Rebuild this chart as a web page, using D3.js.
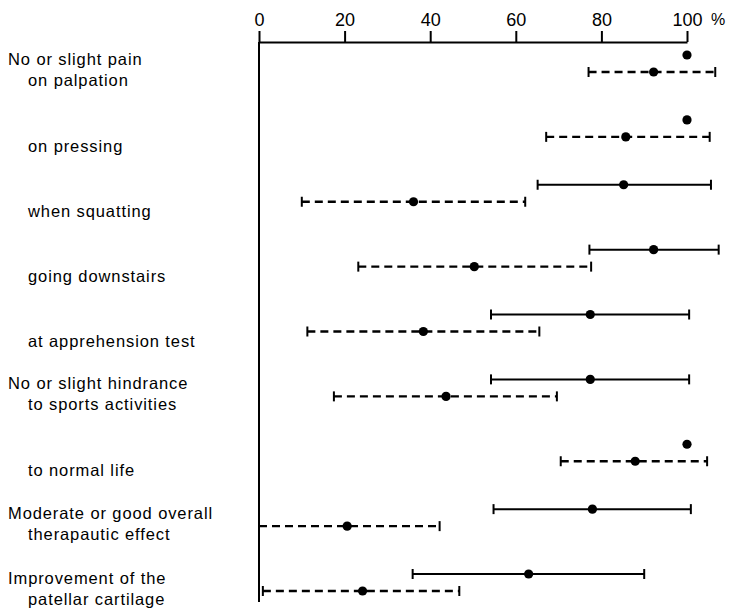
<!DOCTYPE html>
<html>
<head>
<meta charset="utf-8">
<style>
  body { margin: 0; background: #fff; }
  svg { display: block; }
  text { font-family: "Liberation Sans", Arial, sans-serif; fill: #000; }
</style>
</head>
<body>
<svg width="729" height="608"></svg>
<script src="https://d3js.org/d3.v7.min.js"></script>
<script>

var categories = ["palpation", "pressing", "squatting", "downstairs", "apprehension",
                  "sports", "normalLife", "overall", "cartilage"];
var labelLines = [
  ["No or slight pain", "on palpation"],
  ["on pressing"],
  ["when squatting"],
  ["going downstairs"],
  ["at apprehension test"],
  ["No or slight hindrance", "to sports activities"],
  ["to normal life"],
  ["Moderate or good overall", "therapautic effect"],
  ["Improvement of the", "patellar cartilage"]
];
var tickValues = [0, 20, 40, 60, 80, 100];

// solid series (upper point in each row)
var solidMean = [100, 100, 85.2, 92.2, 77.4, 77.4, 100, 77.9, 63.0];
var solidLow  = [null, null, 65.1, 77.2, 54.2, 54.2, null, 54.8, 35.9];
var solidHigh = [null, null, 105.6, 107.4, 100.5, 100.5, null, 100.9, 90.0];

// dashed series (lower point in each row)
var dashedMean = [92.2, 85.7, 36.1, 50.3, 38.4, 43.7, 87.9, 20.6, 24.2];
var dashedLow  = [77.0, 67.1, 10.0, 23.2, 11.3, 17.5, 70.5, 0, 0.9];
var dashedHigh = [106.6, 105.3, 62.2, 77.6, 65.5, 69.6, 104.7, 42.2, 46.8];

var svg = d3.select("svg");

var x = d3.scaleLinear().domain([0, 100]).range([259, 687]);
var y = d3.scalePoint().domain(categories).range([55, 574]);
var dashOffset = 17;

// top axis
var axis = svg.append("g")
    .attr("transform", "translate(0,42)")
    .call(d3.axisTop(x).tickValues(tickValues).tickSize(11).tickSizeOuter(0).tickPadding(5));
axis.select(".domain").attr("stroke-width", 2);
axis.selectAll(".tick line").attr("stroke-width", 2);
axis.selectAll(".tick text")
    .attr("font-size", "18px")
    .attr("font-family", "\"Liberation Sans\", Arial, sans-serif");

svg.append("text")
    .attr("x", x(100) + 31)
    .attr("y", 25)
    .attr("font-size", "16px")
    .attr("text-anchor", "middle")
    .text("%");

// vertical zero line
svg.append("line")
    .attr("x1", x(0)).attr("x2", x(0))
    .attr("y1", 42).attr("y2", y(categories[categories.length - 1]) + 28)
    .attr("stroke", "#000")
    .attr("stroke-width", 2);

// labels
var labels = svg.append("g");
categories.forEach(function(c, i) {
  var lines = labelLines[i];
  var base = lines.length > 1 ? y(c) + 10 : y(c) + 32;
  lines.forEach(function(t, j) {
    labels.append("text")
        .attr("x", lines.length > 1 && j === 0 ? 8 : 28)
        .attr("y", base + j * 21)
        .attr("font-size", "16.5px")
        .attr("letter-spacing", "0.9px")
        .text(t);
  });
});

function drawSeries(mean, low, high, offset, dashed) {
  var rows = categories.map(function(c, i) {
    return {c: c, m: mean[i], lo: low[i], hi: high[i]};
  });
  var g = svg.append("g");
  var bars = rows.filter(function(d) { return d.lo != null; });

  g.selectAll("line.bar").data(bars).enter().append("line")
      .attr("class", "bar")
      .attr("x1", function(d) { return x(d.lo); })
      .attr("x2", function(d) { return x(d.hi); })
      .attr("y1", function(d) { return y(d.c) + offset; })
      .attr("y2", function(d) { return y(d.c) + offset; })
      .attr("stroke", "#000")
      .attr("stroke-width", dashed ? 2.3 : 2)
      .attr("stroke-dasharray", dashed ? "8,5" : null);

  ["lo", "hi"].forEach(function(k) {
    g.selectAll("line.cap-" + k).data(bars).enter().append("line")
        .attr("class", "cap-" + k)
        .attr("x1", function(d) { return x(d[k]); })
        .attr("x2", function(d) { return x(d[k]); })
        .attr("y1", function(d) { return y(d.c) + offset - 5; })
        .attr("y2", function(d) { return y(d.c) + offset + 5; })
        .attr("stroke", "#000")
        .attr("stroke-width", 2);
  });

  g.selectAll("circle").data(rows).enter().append("circle")
      .attr("cx", function(d) { return x(d.m); })
      .attr("cy", function(d) { return y(d.c) + offset; })
      .attr("r", 4.6)
      .attr("fill", "#000");
}

drawSeries(solidMean, solidLow, solidHigh, 0, false);
drawSeries(dashedMean, dashedLow, dashedHigh, dashOffset, true);

</script>
</body>
</html>
